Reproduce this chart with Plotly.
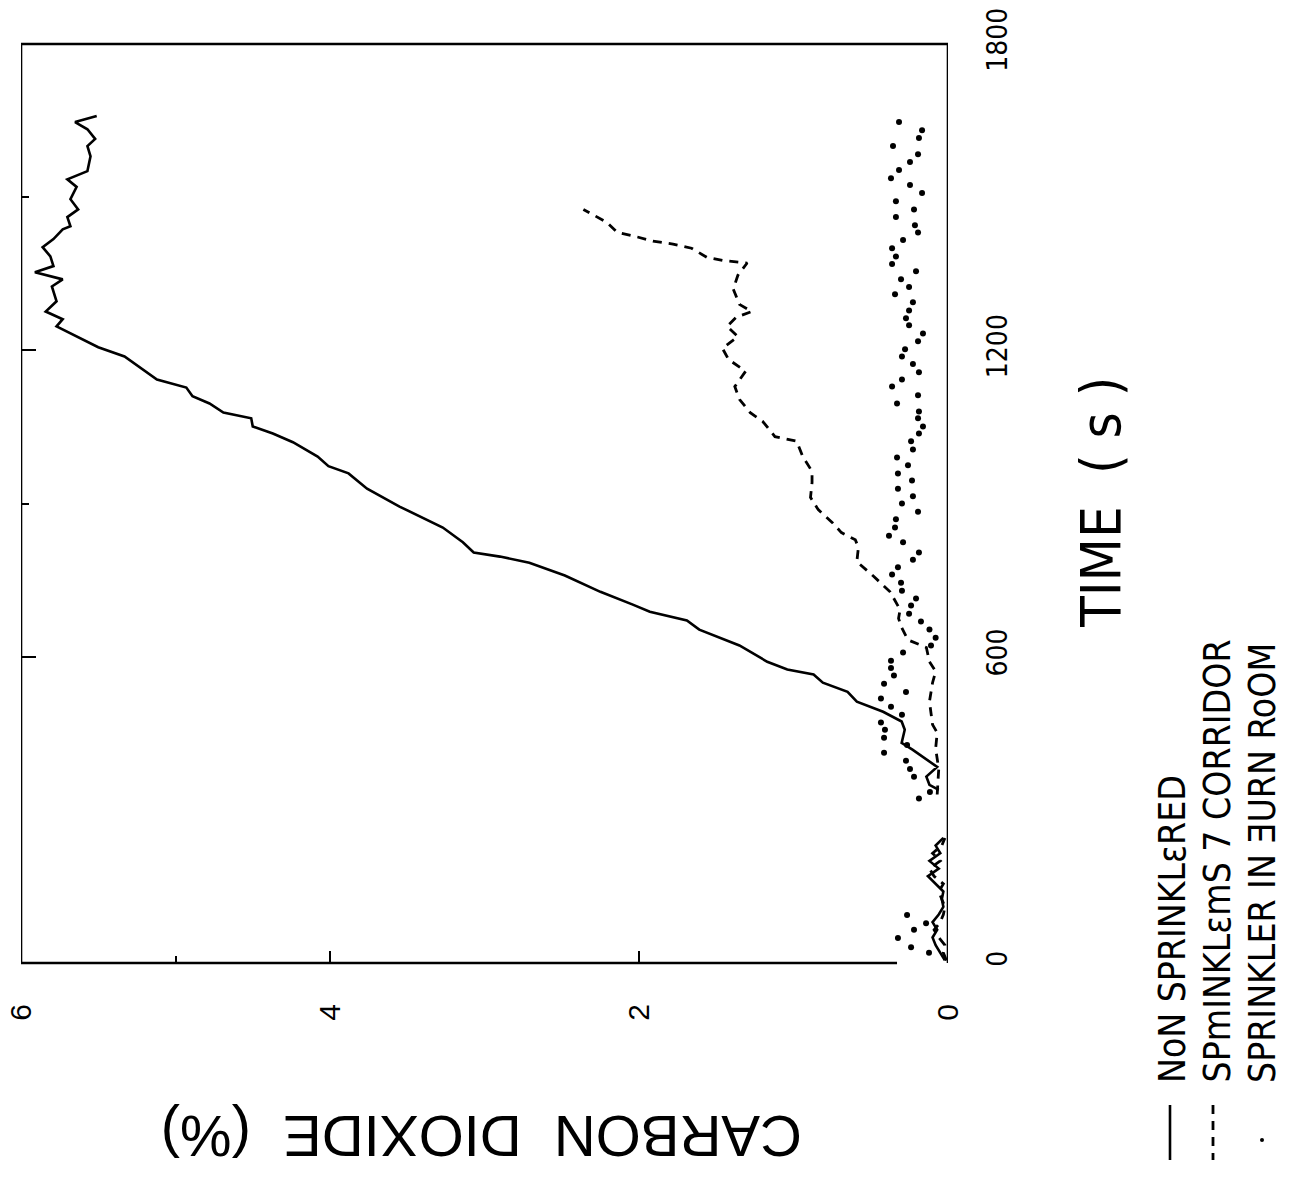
import plotly.graph_objects as go

# ---------------- data (time in s, CO2 in %) ----------------
# Non sprinklered (solid)
solid_t = [5, 20, 35, 50, 65, 80, 95, 110, 125, 140, 155, 170, 185, 200, 215, 230, 245, None,
           339, 349, 365, 384, 418, 431, 457, 473, 492, 512, 531, 549, 565, 575, 590, 622,
           653, 671, 688, 702, 727, 759, 784, 796, 804, 824, 853, 894, 929, 959, 973, 992,
           1020, 1037, 1051, 1067, 1078, 1096, 1110, 1127, 1143, 1163, 1188, 1206, 1225,
           1247, 1261, 1276, 1296, 1325, 1339, 1353, 1365, 1384, 1402, 1418, 1437, 1443,
           1461, 1476, 1496, 1520, 1535, 1551, 1580, 1600, 1614, 1633, 1647, 1659]
solid_c = [0.02, 0.05, 0.08, 0.10, 0.07, 0.10, 0.06, 0.03, 0.04, 0.03, 0.08, 0.13, 0.06, 0.12, 0.05, 0.08, 0.03, None,
           0.06, 0.12, 0.14, 0.07, 0.23, 0.30, 0.28, 0.30, 0.42, 0.59, 0.65, 0.81, 0.87, 1.04, 1.17, 1.35,
           1.61, 1.69, 1.93, 2.04, 2.25, 2.48, 2.71, 2.90, 3.07, 3.14, 3.27, 3.55, 3.76, 3.88, 4.01, 4.08,
           4.24, 4.37, 4.50, 4.51, 4.69, 4.78, 4.89, 4.93, 5.12, 5.21, 5.33, 5.50, 5.63,
           5.77, 5.73, 5.84, 5.77, 5.80, 5.73, 5.91, 5.79, 5.81, 5.86, 5.79, 5.73, 5.68,
           5.70, 5.63, 5.68, 5.64, 5.70, 5.57, 5.55, 5.57, 5.52, 5.57, 5.65, 5.51]

# Sprinklers in corridor (dashed)
dash_t = [5, 20, 35, 50, 65, 80, 95, 110, 125, 140, 155, 170, 185, 200, 215, 230, 245, None,
          330, 380, 420, 451, 467, 512, 549, 571, 590, 618, 633, 657, 675, 692, 727, 757,
          786, 814, 829, 843, 863, 888, 912, 941, 963, 992, 1022, 1031, 1061, 1078, 1104,
          1129, 1159, 1182, 1204, 1227, 1247, 1265, 1276, 1290, 1320, 1347, 1371, 1376,
          1382, 1400, 1408, 1414, 1422, 1431, 1451, 1476]
dash_c = [0.01, 0.03, 0.02, 0.06, 0.09, 0.05, 0.03, 0.02, 0.04, 0.06, 0.03, 0.09, 0.12, 0.05, 0.10, 0.04, 0.02, None,
          0.07, 0.06, 0.08, 0.07, 0.10, 0.12, 0.10, 0.08, 0.12, 0.14, 0.26, 0.30, 0.32, 0.31, 0.375, 0.48,
          0.59, 0.58, 0.60, 0.69, 0.75, 0.84, 0.89, 0.88, 0.88, 0.94, 0.98, 1.12, 1.20, 1.28, 1.35,
          1.38, 1.31, 1.42, 1.46, 1.36, 1.43, 1.37, 1.27, 1.35, 1.39, 1.36, 1.30, 1.46,
          1.56, 1.66, 1.78, 1.91, 2.01, 2.14, 2.21, 2.36]

# Sprinkler in burn room (dotted)
dot_t = [20, 31, 49, 65, 78, 94, 322, 335, 365, 380, 396, 412, 427, 441, 457, 471, 486, 502,
         518, 531, 547, 563, 578, 592, 608, 622, 637, 653, 669, 684, 700, 714, 729, 745, 761,
         775, 790, 804, 824, 837, 853, 869, 884, 900, 914, 929, 945, 959, 975, 990, 1006,
         1022, 1037, 1051, 1067, 1080, 1096, 1112, 1129, 1143, 1157, 1173, 1188, 1202, 1218,
         1233, 1249, 1263, 1278, 1294, 1310, 1324, 1339, 1355, 1369, 1384, 1400, 1416, 1431,
         1445, 1461, 1476, 1492, 1508, 1524, 1537, 1553, 1569, 1584, 1600, 1616, 1631, 1647]
dot_c = [0.123, 0.239, 0.324, 0.220, 0.142, 0.265, 0.188, 0.117, 0.220, 0.246, 0.272, 0.414, 0.265,
         0.414, 0.408, 0.434, 0.298, 0.369, 0.434, 0.272, 0.414, 0.350, 0.369, 0.369, 0.291, 0.110,
         0.08, 0.12, 0.175, 0.252, 0.239, 0.207, 0.298, 0.304, 0.362, 0.324, 0.227, 0.188, 0.291,
         0.382, 0.343, 0.337, 0.194, 0.298, 0.227, 0.324, 0.233, 0.324, 0.259, 0.330, 0.227, 0.239,
         0.188, 0.162, 0.194, 0.188, 0.330, 0.194, 0.362, 0.298, 0.188, 0.227, 0.298, 0.278, 0.194,
         0.162, 0.252, 0.272, 0.252, 0.227, 0.343, 0.252, 0.304, 0.207, 0.362, 0.337, 0.362, 0.291,
         0.194, 0.214, 0.337, 0.220, 0.337, 0.168, 0.246, 0.369, 0.317, 0.246, 0.194, 0.356, 0.188,
         0.168, 0.317]

time_ticks = [0, 600, 1200, 1800]
time_labels = ["0", "600", "1200", "1800"]
co2_ticks = [0, 2, 4, 6]
co2_labels = ["0", "2", "4", "6"]

legend_labels = ["NoN SPRINKLεRED", "SPmINKLεmS 7 CORRIDOR", "SPRINKLER IN ƎURN RoOM"]
x_title = "TIME  ( s )"
y_title = "CARBON  DIOXIDE  (%)"

NARROW = "Liberation Sans Narrow, DejaVu Sans Condensed, Arial Narrow, Liberation Sans, sans-serif"
SANS = "Liberation Sans, Arial, Helvetica, sans-serif"

fig = go.Figure()
fig.add_trace(go.Scatter(x=solid_c, y=solid_t, mode="lines", connectgaps=False,
                         line=dict(color="black", width=2.6), name=legend_labels[0]))
fig.add_trace(go.Scatter(x=dash_c, y=dash_t, mode="lines", connectgaps=False,
                         line=dict(color="black", width=2.8, dash="9px,7px"), name=legend_labels[1]))
fig.add_trace(go.Scatter(x=dot_c, y=dot_t, mode="markers", yaxis="y2",
                         marker=dict(color="black", size=6), name=legend_labels[2]))

# body margin is removed in the page (post_script), so window coords == figure coords
W, H = 1289, 1182
L, T = 21, 44
R = W - 948
B = H - 963
pw, ph = W - L - R, H - T - B


def px(xp):
    return (xp - L) / pw


def py(yp):
    return (H - B - yp) / ph


line_style = dict(color="black", width=2.6)
shapes = [
    dict(type="line", xref="x", yref="paper", x0=6, x1=0, y0=1, y1=1, line=line_style),
    dict(type="line", xref="x", yref="paper", x0=6, x1=6, y0=0, y1=1, line=line_style),
    dict(type="line", xref="x", yref="paper", x0=0, x1=0, y0=0, y1=1, line=line_style),
    dict(type="line", xref="x", yref="paper", x0=6, x1=0.33, y0=0, y1=0, line=line_style),
    # legend keys
    dict(type="line", xref="paper", yref="paper", x0=px(1170), x1=px(1170), y0=py(1105), y1=py(1160),
         line=dict(color="black", width=2.6)),
    dict(type="line", xref="paper", yref="paper", x0=px(1213), x1=px(1213), y0=py(1105), y1=py(1160),
         line=dict(color="black", width=2.8, dash="9px,7px")),
    dict(type="circle", xref="paper", yref="paper", x0=px(1260), x1=px(1264), y0=py(1138), y1=py(1142),
         fillcolor="black", line=dict(color="black", width=0)),
]

annotations = [
    dict(text=x_title, xref="paper", yref="paper", x=px(1100), y=py(503), showarrow=False,
         textangle=-90, xanchor="center", yanchor="middle",
         font=dict(family=NARROW, size=56, color="black")),
    dict(text=y_title, xref="paper", yref="paper", x=px(482), y=py(1137), showarrow=False,
         textangle=180, xanchor="center", yanchor="middle",
         font=dict(family=SANS, size=58, color="black")),
]
for lab, xc in zip(legend_labels, [1172, 1217, 1262]):
    annotations.append(dict(text=lab, xref="paper", yref="paper", x=px(xc), y=py(1085),
                            showarrow=False, textangle=-90, xanchor="center", yanchor="bottom",
                            font=dict(family=NARROW, size=37, color="black")))

fig.update_layout(
    width=W, height=H,
    margin=dict(l=L, r=R, t=T, b=B, pad=0, autoexpand=False),
    paper_bgcolor="white", plot_bgcolor="white",
    showlegend=False,
    shapes=shapes,
    annotations=annotations,
    xaxis=dict(range=[6, 0], tickmode="array", tickvals=co2_ticks, ticktext=co2_labels,
               tickangle=-90, ticks="inside", ticklen=12, tickwidth=2, tickcolor="black",
               minor=dict(tickmode="array", tickvals=[5], ticks="inside", ticklen=7, tickwidth=2,
                          tickcolor="black", showgrid=False),
               showgrid=False, zeroline=False, showline=False, automargin=False,
               ticklabeloverflow="allow", ticklabelstandoff=34,
               tickfont=dict(family=SANS, size=30, color="black")),
    yaxis=dict(range=[0, 1800], tickmode="array", tickvals=[600, 1200], side="left",
               ticks="inside", ticklen=15, tickwidth=2, tickcolor="black",
               minor=dict(tickmode="array", tickvals=[900, 1500], ticks="inside", ticklen=8,
                          tickwidth=2, tickcolor="black", showgrid=False),
               showticklabels=False, showgrid=False, zeroline=False, showline=False,
               automargin=False),
    yaxis2=dict(range=[0, 1800], overlaying="y", side="right", tickmode="array",
                tickvals=time_ticks, ticktext=time_labels, tickangle=-90, ticks="",
                showgrid=False, zeroline=False, showline=False, automargin=False,
                ticklabeloverflow="allow", ticklabelstandoff=30,
                tickfont=dict(family=NARROW, size=28, color="black")),
)

fig.write_html("out.html", config={"displayModeBar": False},
               post_script="document.body.style.margin='0px';")
